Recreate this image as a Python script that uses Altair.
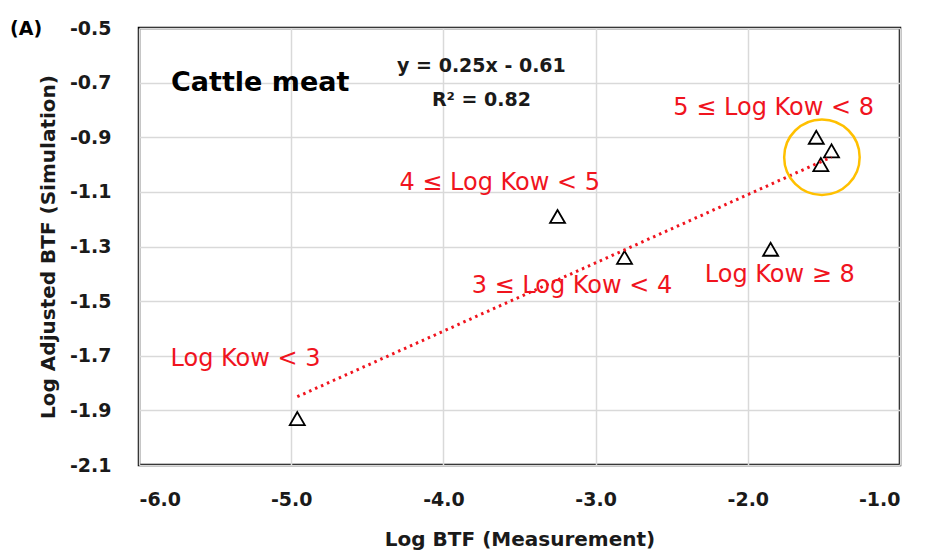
import altair as alt
import pandas as pd

# Measured vs simulated log BTF for cattle meat
log_btf_measured = [-4.96, -3.25, -2.81, -1.85, -1.55, -1.45, -1.52]
log_btf_simulated = [-1.93, -1.19, -1.34, -1.31, -0.90, -0.95, -1.00]

# Linear fit reported on the chart
slope = 0.25
intercept = -0.61
r_squared = 0.82

x_ticks = [-6.0, -5.0, -4.0, -3.0, -2.0, -1.0]
y_ticks = [-2.1, -1.9, -1.7, -1.5, -1.3, -1.1, -0.9, -0.7, -0.5]

# Log Kow group labels
group_labels = ["5 \u2264 Log Kow < 8", "4 \u2264 Log Kow < 5", "3 \u2264 Log Kow < 4",
                "Log Kow \u2265 8", "Log Kow < 3"]
group_label_x = [-1.83, -3.63, -3.155, -1.79, -5.30]
group_label_y = [-0.794, -1.069, -1.443, -1.406, -1.711]

FONT = "DejaVu Sans"
RED = "#F0141E"

# Tick labels with a plain hyphen as the minus sign
TICK_LABEL = "replace(format(datum.value, '.1f'), '\u2212', '-')"

points = pd.DataFrame({"x": log_btf_measured, "y": log_btf_simulated})
fit_x = [min(log_btf_measured), max(log_btf_measured)]
fit = pd.DataFrame({"x": fit_x, "y": [slope * v + intercept for v in fit_x]})

xscale = alt.Scale(domain=[-6, -1], nice=False, zero=False)
yscale = alt.Scale(domain=[-2.1, -0.5], nice=False, zero=False)

x_enc = alt.X("x:Q", scale=xscale, title="Log BTF (Measurement)",
              axis=alt.Axis(values=x_ticks, labelExpr=TICK_LABEL, grid=True, ticks=False,
                            domain=False, labelPadding=25, titlePadding=20))
y_enc = alt.Y("y:Q", scale=yscale, title="Log Adjusted BTF (Simulation)",
              axis=alt.Axis(values=y_ticks, labelExpr=TICK_LABEL, grid=True, ticks=False,
                            domain=False, labelPadding=28, titlePadding=11))

base_points = alt.Chart(points).mark_point(
    shape="triangle-up", size=225, filled=False, stroke="black", strokeWidth=1.8, opacity=1
).encode(x=x_enc, y=y_enc)

fit_line = alt.Chart(fit).mark_line(
    color=RED, strokeWidth=3, strokeDash=[2.5, 4]
).encode(x=alt.X("x:Q", scale=xscale), y=alt.Y("y:Q", scale=yscale))

# Highlight around the high-Kow cluster
highlight = alt.Chart(pd.DataFrame({"x": [-1.513], "y": [-0.973]})).mark_point(
    shape="circle", size=5700, filled=False, stroke="#FFC000", strokeWidth=2.5, opacity=1
).encode(x=alt.X("x:Q", scale=xscale), y=alt.Y("y:Q", scale=yscale))

labels_df = pd.DataFrame({"label": group_labels, "x": group_label_x, "y": group_label_y})
group_text = alt.Chart(labels_df).mark_text(
    font=FONT, fontSize=24, color=RED, align="center", baseline="middle"
).encode(x=alt.X("x:Q", scale=xscale), y=alt.Y("y:Q", scale=yscale), text="label:N")

eq_df = pd.DataFrame({
    "label": [f"y = {slope:.2f}x - {abs(intercept):.2f}", f"R\u00b2 = {r_squared:.2f}"],
    "x": [-3.75, -3.75], "y": [-0.639, -0.764]})
eq_text = alt.Chart(eq_df).mark_text(
    font=FONT, fontSize=19, fontWeight="bold", color="#1a1a1a", align="center", baseline="middle"
).encode(x=alt.X("x:Q", scale=xscale), y=alt.Y("y:Q", scale=yscale), text="label:N")

title_text = alt.Chart(pd.DataFrame({"label": ["Cattle meat"], "x": [-5.79], "y": [-0.70]})).mark_text(
    font=FONT, fontSize=27, fontWeight="bold", color="black", align="left", baseline="middle"
).encode(x=alt.X("x:Q", scale=xscale), y=alt.Y("y:Q", scale=yscale), text="label:N")

panel_text = alt.Chart(pd.DataFrame({"label": ["(A)"], "x": [-6.742], "y": [-0.504]})).mark_text(
    font=FONT, fontSize=19, fontWeight="bold", color="black", align="center", baseline="middle",
    clip=False
).encode(x=alt.X("x:Q", scale=xscale), y=alt.Y("y:Q", scale=yscale), text="label:N")

chart = alt.layer(
    base_points, fit_line, highlight, group_text, eq_text, title_text, panel_text
).properties(
    width=761, height=437,
    autosize=alt.AutoSizeParams(type="none"),
    padding={"left": 139, "top": 28, "right": 27, "bottom": 91},
    background="white",
).configure_view(
    stroke="black", strokeWidth=2.5
).configure_axis(
    gridColor="#d9d9d9", gridWidth=1.5,
    labelFont=FONT, labelFontSize=19, labelFontWeight="bold", labelColor="#1a1a1a",
    titleFont=FONT, titleFontSize=20, titleFontWeight="bold", titleColor="#1a1a1a",
)

chart.save("out.html", embed_options={"renderer": "svg", "actions": False})
